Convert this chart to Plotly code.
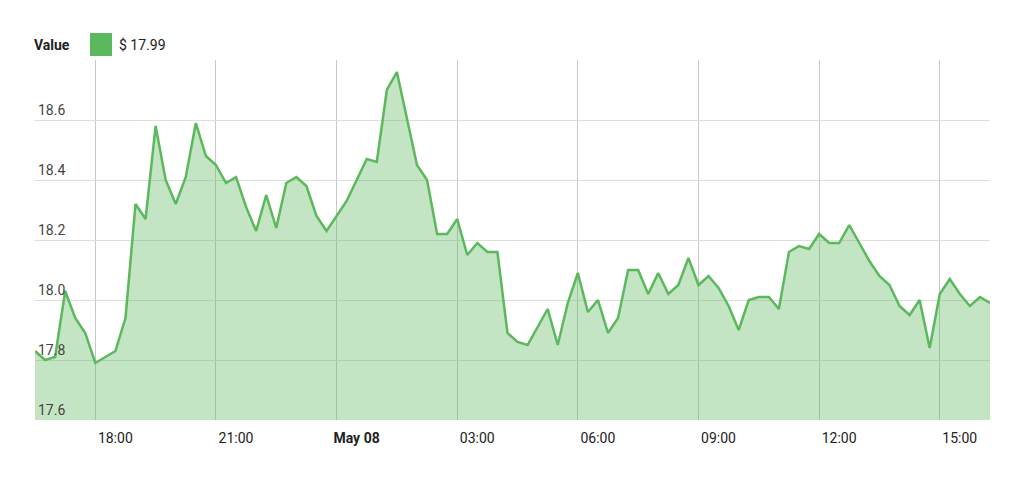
import plotly.graph_objects as go
import pandas as pd

values = [17.83, 17.80, 17.81, 18.03, 17.94, 17.89, 17.79, 17.81, 17.83, 17.94,
          18.32, 18.27, 18.58, 18.40, 18.32, 18.41, 18.59, 18.48, 18.45, 18.39,
          18.41, 18.31, 18.23, 18.35, 18.24, 18.39, 18.41, 18.38, 18.28, 18.23,
          18.28, 18.33, 18.40, 18.47, 18.46, 18.70, 18.76, 18.61, 18.45, 18.40,
          18.22, 18.22, 18.27, 18.15, 18.19, 18.16, 18.16, 17.89, 17.86, 17.85,
          17.91, 17.97, 17.85, 17.99, 18.09, 17.96, 18.00, 17.89, 17.94, 18.10,
          18.10, 18.02, 18.09, 18.02, 18.05, 18.14, 18.05, 18.08, 18.04, 17.98,
          17.90, 18.00, 18.01, 18.01, 17.97, 18.16, 18.18, 18.17, 18.22, 18.19,
          18.19, 18.25, 18.19, 18.13, 18.08, 18.05, 17.98, 17.95, 18.00, 17.84,
          18.02, 18.07, 18.02, 17.98, 18.01, 17.99]
times = pd.date_range("2018-05-07 16:30", periods=len(values), freq="15min")

x_tickvals = ["2018-05-07 18:00", "2018-05-07 21:00", "2018-05-08 00:00", "2018-05-08 03:00",
              "2018-05-08 06:00", "2018-05-08 09:00", "2018-05-08 12:00", "2018-05-08 15:00"]
x_ticktext = ["18:00", "21:00", "<b>May 08</b>", "03:00", "06:00", "09:00", "12:00", "15:00"]
y_tickvals = [17.6, 17.8, 18.0, 18.2, 18.4, 18.6, 18.8]
y_ticktext = ["17.6", "17.8", "18.0", "18.2", "18.4", "18.6", ""]

fig = go.Figure(go.Scatter(
    x=times, y=values, mode="lines",
    line=dict(color="#5cb85c", width=2.5),
    fill="tozeroy", fillcolor="rgba(92,184,92,0.37)",
    hoverinfo="skip", showlegend=False))

fig.update_layout(
    width=1024, height=480, margin=dict(l=27, r=42, t=52, b=68),
    paper_bgcolor="white", plot_bgcolor="white",
    font=dict(family="Roboto, Helvetica, Arial, sans-serif", size=14, color="#222"),
    xaxis=dict(range=[times[0], times[-1]], tickvals=x_tickvals, ticktext=x_ticktext,
               showgrid=True, gridcolor="#c8c8c8", gridwidth=1, ticks="",
               ticklabelshift=20, ticklabelstandoff=8, showline=False, zeroline=False),
    yaxis=dict(range=[17.6, 18.8], tickvals=y_tickvals, ticktext=y_ticktext,
               showgrid=True, gridcolor="#dedede", gridwidth=1, ticks="",
               ticklabelposition="inside top", zeroline=False, showline=False),
    annotations=[
        dict(xref="paper", yref="paper", x=-0.003, y=1.042, xanchor="left", yanchor="middle",
             text="<b>Value</b>", showarrow=False, font=dict(size=14, color="#222")),
        dict(xref="paper", yref="paper", x=0.086, y=1.042, xanchor="left", yanchor="middle",
             text="$ 17.99", showarrow=False, font=dict(size=14, color="#222")),
    ],
    shapes=[dict(type="rect", xref="paper", yref="paper", x0=0.0576, x1=0.0806,
                 y0=1.011, y1=1.075, fillcolor="#5cb85c", line=dict(width=0))],
)
fig.write_html("out.html")
